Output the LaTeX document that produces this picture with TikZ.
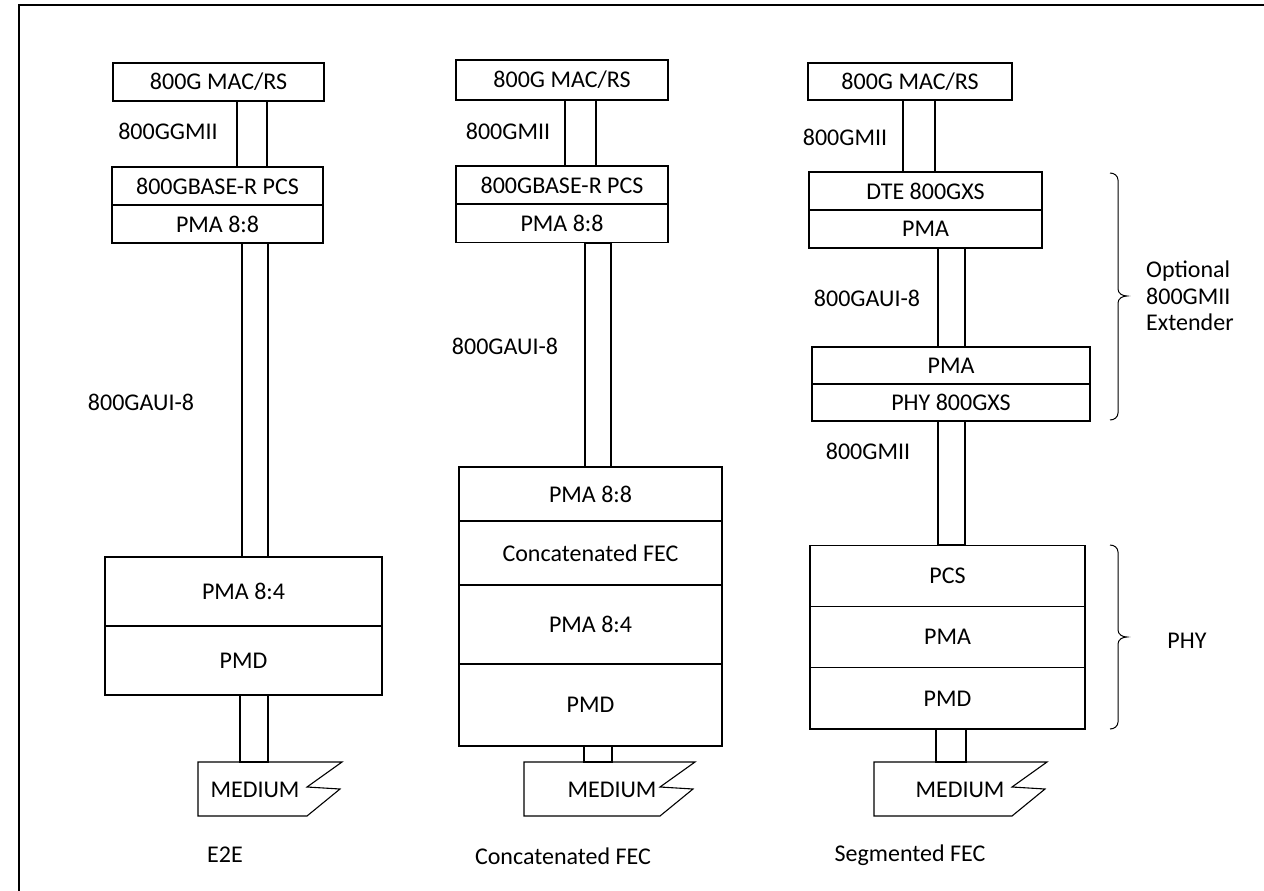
\documentclass[tikz,border=0pt]{standalone}
\usepackage{fontspec}
\setmainfont{Carlito}
\begin{document}
\begin{tikzpicture}[x=1pt,y=-1pt,
  blk/.style={draw,line width=1.1pt,inner sep=0pt,font=\fontsize{24}{26.5}\selectfont},
  lbl/.style={inner sep=0pt,font=\fontsize{24}{26.5}\selectfont},
  bar/.style={draw,line width=1.1pt},
  frm/.style={draw,line width=1.6pt},
  brace/.style={draw,line width=1pt}]
\useasboundingbox (0,0) rectangle (1264,891);
\draw[frm] (19,891) -- (19,5) -- (1264,5);
% ---------- column 1 : E2E
\node[blk,minimum width=211,minimum height=38] (amac) at (218.5,82) {800G MAC/RS};
\node[blk,minimum width=211,minimum height=38] (apcs) at (217.5,186) {800GBASE-R PCS};
\node[blk,minimum width=211,minimum height=38] (apma) at (217.5,224) {PMA 8:8};
\node[blk,minimum width=277,minimum height=69] (apmb) at (243.5,591.5) {PMA 8:4};
\node[blk,minimum width=277,minimum height=69] (apmd) at (243.5,660.5) {PMD};
\node[lbl] (amed) at (255,790) {MEDIUM};
\coordinate (amedtop) at (254,762);
\draw[bar] (237,0 |- amac.south) rectangle (267,0 |- apcs.north);
\draw[bar] (242,0 |- apma.south) rectangle (268,0 |- apmb.north);
\draw[bar] (240,0 |- apmd.south) rectangle (268,0 |- amedtop);
\draw[bar] (198,762) -- (342,762) -- (307,787) -- (340,789) -- (307,816) -- (198,816) -- cycle;
\node[lbl] (agmii) at (168,131) {800GGMII};
\node[lbl] (aaui) at (141,402) {800GAUI-8};
\node[lbl] (atitle) at (225,855) {E2E};
% ---------- column 2 : Concatenated FEC
\node[blk,minimum width=212,minimum height=40] (bmac) at (562,80) {800G MAC/RS};
\node[blk,minimum width=212,minimum height=38] (bpcs) at (562,185) {800GBASE-R PCS};
\node[blk,minimum width=212,minimum height=38] (bpma) at (562,223.5) {PMA 8:8};
\node[blk,minimum width=263,minimum height=54] (bpm8) at (590.5,494) {PMA 8:8};
\node[blk,minimum width=263,minimum height=64] (bfec) at (590.5,553) {Concatenated FEC};
\node[blk,minimum width=263,minimum height=79] (bpm4) at (590.5,624.5) {PMA 8:4};
\node[blk,minimum width=263,minimum height=82] (bpmd) at (590.5,705) {PMD};
\node[lbl] (bmed) at (612,790) {MEDIUM};
\coordinate (bmedtop) at (598,762);
\draw[bar] (565,0 |- bmac.south) rectangle (596,0 |- bpcs.north);
\draw[bar] (585,0 |- bpma.south) rectangle (611,0 |- bpm8.north);
\draw[bar] (584,0 |- bpmd.south) rectangle (612,0 |- bmedtop);
\draw[bar] (524,762) -- (695,762) -- (660,787) -- (693,789) -- (660,816) -- (524,816) -- cycle;
\node[lbl] (bgmii) at (508,131) {800GMII};
\node[lbl] (baui) at (505,346) {800GAUI-8};
\node[lbl] (btitle) at (563,856) {Concatenated FEC};
% ---------- column 3 : Segmented FEC
\node[blk,minimum width=204,minimum height=37] (cmac) at (910,81.5) {800G MAC/RS};
\node[blk,minimum width=233,minimum height=38] (cdte) at (925.5,191) {DTE 800GXS};
\node[blk,minimum width=233,minimum height=38] (cpma) at (925.5,229) {PMA};
\node[blk,minimum width=278,minimum height=37] (cpmb) at (951,365.5) {PMA};
\node[blk,minimum width=278,minimum height=37] (cphy) at (951,402.5) {PHY 800GXS};
\node[blk,minimum width=275,minimum height=61.3] (cpcs) at (947.5,575.7) {PCS};
\node[blk,minimum width=275,minimum height=61.3] (cpmc) at (947.5,637) {PMA};
\node[blk,minimum width=275,minimum height=61.3] (cpmd) at (947.5,698.3) {PMD};
\node[lbl] (cmed) at (960,790) {MEDIUM};
\coordinate (cmedtop) at (951,762);
\draw[bar] (903,0 |- cmac.south) rectangle (935,0 |- cdte.north);
\draw[bar] (938,0 |- cpma.south) rectangle (965,0 |- cpmb.north);
\draw[bar] (938,0 |- cphy.south) rectangle (965,0 |- cpcs.north);
\draw[bar] (936,0 |- cpmd.south) rectangle (966,0 |- cmedtop);
\draw[bar] (874,762) -- (1047,762) -- (1012,787) -- (1045,789) -- (1012,816) -- (874,816) -- cycle;
\node[lbl] (cgmii) at (845,137) {800GMII};
\node[lbl] (caui) at (867,298) {800GAUI-8};
\node[lbl] (cgmii2) at (868,451) {800GMII};
\node[lbl] (ctitle) at (910,855) {Segmented FEC};
% brackets
\draw[brace] (1110,173) to[out=0,in=90] (1118,180) -- (1118,289) to[out=270,in=180] (1127,296) to[out=180,in=90] (1118,303) -- (1118,413) to[out=270,in=0] (1110,420);
\node[lbl,align=left,anchor=west] (copt) at (1146,296) {Optional\\800GMII\\Extender};
\draw[brace] (1110,545) to[out=0,in=90] (1118,552) -- (1118,630) to[out=270,in=180] (1127,637) to[out=180,in=90] (1118,644) -- (1118,722) to[out=270,in=0] (1110,729);
\node[lbl] (cphylbl) at (1187,641) {PHY};
\end{tikzpicture}
\end{document}
